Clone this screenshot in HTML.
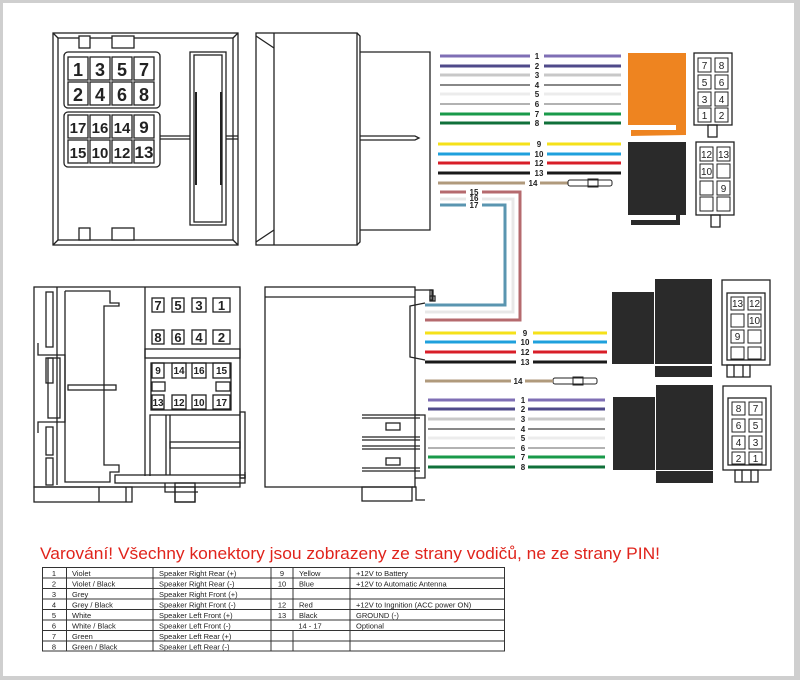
<!DOCTYPE html>
<html><head><meta charset="utf-8"><style>
body{margin:0;background:#fff}
svg{display:block}
text{font-family:"Liberation Sans",sans-serif}
</style></head><body>
<svg width="800" height="680" viewBox="0 0 800 680" xmlns="http://www.w3.org/2000/svg">
<rect x="0" y="0" width="800" height="680" fill="#cfcfcf"/>
<rect x="3" y="3" width="791" height="673" fill="#fff"/>

<!-- top-left connector -->
<g fill="none" stroke="#222" stroke-width="1.3">
<rect x="53" y="33" width="185" height="212"/>
<rect x="58" y="38" width="175" height="202"/>
<line x1="53" y1="33" x2="58" y2="38"/><line x1="238" y1="33" x2="233" y2="38"/>
<line x1="53" y1="245" x2="58" y2="240"/><line x1="238" y1="245" x2="233" y2="240"/>
<rect x="79" y="36" width="11" height="12" fill="#fff"/>
<rect x="112" y="36" width="22" height="12" fill="#fff"/>
<rect x="79" y="228" width="11" height="12" fill="#fff"/>
<rect x="112" y="228" width="22" height="12" fill="#fff"/>
<rect x="64" y="52" width="96" height="56" rx="4"/>
<rect x="64" y="112" width="96" height="55" rx="4"/>
<line x1="160" y1="136" x2="190" y2="136"/><line x1="160" y1="139" x2="190" y2="139"/>
<line x1="226" y1="136" x2="238" y2="136"/><line x1="226" y1="139" x2="238" y2="139"/>
<rect x="190" y="52" width="36" height="173"/>
<rect x="194" y="55" width="28" height="167"/>
<line x1="196" y1="92" x2="196" y2="185" stroke-width="2"/>
<line x1="221" y1="92" x2="221" y2="185" stroke-width="2"/>
</g>
<g fill="none" stroke="#222" stroke-width="1.3">
<rect x="68" y="57" width="20" height="23"/><rect x="90" y="57" width="20" height="23"/><rect x="112" y="57" width="20" height="23"/><rect x="134" y="57" width="20" height="23"/>
<rect x="68" y="82" width="20" height="23"/><rect x="90" y="82" width="20" height="23"/><rect x="112" y="82" width="20" height="23"/><rect x="134" y="82" width="20" height="23"/>
<rect x="68" y="115" width="20" height="23"/><rect x="90" y="115" width="20" height="23"/><rect x="112" y="115" width="20" height="23"/><rect x="134" y="115" width="20" height="23"/>
<rect x="68" y="140" width="20" height="23"/><rect x="90" y="140" width="20" height="23"/><rect x="112" y="140" width="20" height="23"/><rect x="134" y="140" width="20" height="23"/>
</g>
<g font-size="18" font-weight="bold" fill="#222" text-anchor="middle">
<text x="78" y="76">1</text><text x="100" y="76">3</text><text x="122" y="76">5</text><text x="144" y="76">7</text>
<text x="78" y="101">2</text><text x="100" y="101">4</text><text x="122" y="101">6</text><text x="144" y="101">8</text>
</g>
<g font-size="15" font-weight="bold" fill="#222" text-anchor="middle">
<text x="78" y="133">17</text><text x="100" y="133">16</text><text x="122" y="133">14</text><text x="144" y="133" font-size="17">9</text>
<text x="78" y="158">15</text><text x="100" y="158">10</text><text x="122" y="158">12</text><text x="144" y="158" font-size="17">13</text>
</g>

<!-- top side view -->
<g fill="none" stroke="#222" stroke-width="1.3">
<rect x="256" y="33" width="101" height="212"/>
<line x1="274" y1="33" x2="274" y2="245"/>
<polyline points="256,36 274,48"/><polyline points="256,242 274,230"/>
<polyline points="357,33 360,36 360,242 357,245"/>
<polyline points="360,52 430,52 430,230 360,230"/>
<polyline points="360,136 415,136 419,138 415,140 360,140"/>
</g>

<!-- top wires -->
<g stroke-width="3">
<line x1="440" y1="56" x2="530" y2="56" stroke="#7f6fb5"/><line x1="544" y1="56" x2="621" y2="56" stroke="#7f6fb5"/>
<line x1="440" y1="66" x2="530" y2="66" stroke="#4f4a8a"/><line x1="544" y1="66" x2="621" y2="66" stroke="#4f4a8a"/>
<line x1="440" y1="75" x2="530" y2="75" stroke="#c8c8c8"/><line x1="544" y1="75" x2="621" y2="75" stroke="#c8c8c8"/>
<line x1="440" y1="85" x2="530" y2="85" stroke="#888" stroke-width="2"/><line x1="544" y1="85" x2="621" y2="85" stroke="#888" stroke-width="2"/>
<line x1="440" y1="94" x2="530" y2="94" stroke="#ececec"/><line x1="544" y1="94" x2="621" y2="94" stroke="#ececec"/>
<line x1="440" y1="104" x2="530" y2="104" stroke="#999" stroke-width="1.5"/><line x1="544" y1="104" x2="621" y2="104" stroke="#999" stroke-width="1.5"/>
<line x1="440" y1="114" x2="530" y2="114" stroke="#1a9a4a"/><line x1="544" y1="114" x2="621" y2="114" stroke="#1a9a4a"/>
<line x1="440" y1="123" x2="530" y2="123" stroke="#10703a"/><line x1="544" y1="123" x2="621" y2="123" stroke="#10703a"/>
<line x1="438" y1="144" x2="530" y2="144" stroke="#f5e11a"/><line x1="547" y1="144" x2="621" y2="144" stroke="#f5e11a"/>
<line x1="438" y1="154" x2="530" y2="154" stroke="#1fa0dc"/><line x1="547" y1="154" x2="621" y2="154" stroke="#1fa0dc"/>
<line x1="438" y1="163" x2="530" y2="163" stroke="#d81e28"/><line x1="547" y1="163" x2="621" y2="163" stroke="#d81e28"/>
<line x1="438" y1="173" x2="530" y2="173" stroke="#1a1a1a"/><line x1="547" y1="173" x2="621" y2="173" stroke="#1a1a1a"/>
<line x1="438" y1="183" x2="525" y2="183" stroke="#b09a7c"/><line x1="540" y1="183" x2="568" y2="183" stroke="#b09a7c"/>
</g>
<g fill="none" stroke-width="3">
<polyline points="440,192 466,192" stroke="#b56a6e"/><polyline points="482,192 520,192 520,320 425,320" stroke="#b56a6e"/>
<polyline points="440,199 466,199" stroke="#e8e8e8"/><polyline points="482,199 513,199 513,312 425,312" stroke="#e8e8e8"/>
<polyline points="440,205 466,205" stroke="#5a95b0"/><polyline points="482,205 505,205 505,305 425,305" stroke="#5a95b0"/>
</g>
<g fill="none" stroke="#222" stroke-width="1">
<rect x="568" y="180" width="44" height="6" rx="2"/><rect x="588" y="179" width="10" height="8"/>
<rect x="553" y="378" width="44" height="6" rx="2"/><rect x="573" y="377" width="10" height="8"/>
</g>
<g font-size="8" font-weight="bold" fill="#222" text-anchor="middle">
<text x="537" y="59">1</text><text x="537" y="69">2</text><text x="537" y="78">3</text><text x="537" y="88">4</text>
<text x="537" y="97">5</text><text x="537" y="107">6</text><text x="537" y="117">7</text><text x="537" y="126">8</text>
<text x="539" y="147">9</text><text x="539" y="157">10</text><text x="539" y="166">12</text><text x="539" y="176">13</text>
<text x="533" y="186">14</text><text x="474" y="195">15</text><text x="474" y="201">16</text><text x="474" y="208">17</text>
</g>

<!-- top right blocks -->
<rect x="628" y="53" width="58" height="72" fill="#ee8420"/>
<polygon points="631,130 676,130 676,122 686,122 686,135 631,136" fill="#ee8420"/>
<rect x="628" y="142" width="58" height="73" fill="#2a2a2a"/>
<polygon points="631,220 676,220 676,214 680,214 680,225 631,225" fill="#2a2a2a"/>
<g fill="none" stroke="#222" stroke-width="1.3">
<rect x="694" y="53" width="38" height="72"/>
<rect x="708" y="125" width="9" height="12"/>
<rect x="696" y="142" width="38" height="73"/>
<rect x="711" y="215" width="9" height="12"/>
</g>
<g fill="none" stroke="#222" stroke-width="1">
<rect x="698" y="58" width="13" height="14"/><rect x="715" y="58" width="13" height="14"/>
<rect x="698" y="75" width="13" height="14"/><rect x="715" y="75" width="13" height="14"/>
<rect x="698" y="92" width="13" height="14"/><rect x="715" y="92" width="13" height="14"/>
<rect x="698" y="108" width="13" height="14"/><rect x="715" y="108" width="13" height="14"/>
<rect x="700" y="147" width="13" height="14"/><rect x="717" y="147" width="13" height="14"/>
<rect x="700" y="164" width="13" height="14"/><rect x="717" y="164" width="13" height="14"/>
<rect x="700" y="181" width="13" height="14"/><rect x="717" y="181" width="13" height="14"/>
<rect x="700" y="197" width="13" height="14"/><rect x="717" y="197" width="13" height="14"/>
</g>
<g font-size="10" fill="#222" text-anchor="middle">
<text x="704.5" y="69">7</text><text x="721.5" y="69">8</text>
<text x="704.5" y="86">5</text><text x="721.5" y="86">6</text>
<text x="704.5" y="103">3</text><text x="721.5" y="103">4</text>
<text x="704.5" y="119">1</text><text x="721.5" y="119">2</text>
<text x="706.5" y="158">12</text><text x="723.5" y="158">13</text>
<text x="706.5" y="175">10</text><text x="723.5" y="192">9</text>
</g>

<!-- bottom-left connector -->
<g fill="none" stroke="#222" stroke-width="1.3">
<rect x="34" y="287" width="206" height="200"/>
<rect x="34" y="487" width="98" height="15"/>
<line x1="99" y1="487" x2="99" y2="502"/><line x1="126" y1="487" x2="126" y2="502"/>
<rect x="175" y="487" width="20" height="15"/>
<rect x="46" y="292" width="7" height="55"/>
<rect x="46" y="358" width="7" height="25"/>
<rect x="48" y="358" width="12" height="60"/>
<rect x="46" y="427" width="7" height="28"/>
<rect x="46" y="458" width="7" height="27"/>
<polyline points="38,343 38,355 65,355 65,422 38,422 38,433"/>
<line x1="57" y1="287" x2="57" y2="485"/>
<polyline points="65,291 110,291 110,303 119,303 119,306 104,306 104,465 119,465 119,472 110,472 110,482 65,482 65,291"/>
<rect x="68" y="385" width="48" height="5"/>
<line x1="145" y1="287" x2="145" y2="476"/>
<rect x="145" y="349" width="95" height="9"/>
<rect x="150" y="299" width="88" height="46" fill="none" stroke="none"/>
<rect x="152" y="298" width="12" height="14"/><rect x="172" y="298" width="12" height="14"/><rect x="192" y="298" width="14" height="14"/><rect x="213" y="298" width="17" height="14"/>
<rect x="152" y="330" width="12" height="14"/><rect x="172" y="330" width="12" height="14"/><rect x="192" y="330" width="14" height="14"/><rect x="213" y="330" width="17" height="14"/>
<rect x="151" y="363" width="80" height="47"/>
<rect x="152" y="363" width="12" height="15"/><rect x="172" y="363" width="14" height="15"/><rect x="192" y="363" width="14" height="15"/><rect x="213" y="363" width="17" height="15"/>
<rect x="152" y="382" width="13" height="9"/><rect x="216" y="382" width="14" height="9"/>
<rect x="152" y="395" width="12" height="14"/><rect x="172" y="395" width="14" height="14"/><rect x="192" y="395" width="14" height="14"/><rect x="213" y="395" width="17" height="14"/>
<polyline points="150,476 150,415 240,415"/>
<line x1="166" y1="415" x2="166" y2="475"/><line x1="170" y1="415" x2="170" y2="475"/>
<rect x="170" y="442" width="70" height="6"/>
<rect x="240" y="412" width="5" height="66"/>
<polyline points="240,478 245,478 245,472"/>
<rect x="115" y="475" width="130" height="8"/>
<polyline points="165,483 165,492 198,492"/>
<rect x="175" y="483" width="20" height="19"/>
</g>
<g font-size="13" font-weight="bold" fill="#222" text-anchor="middle">
<text x="158" y="310">7</text><text x="178" y="310">5</text><text x="199" y="310">3</text><text x="221.5" y="310">1</text>
<text x="158" y="342">8</text><text x="178" y="342">6</text><text x="199" y="342">4</text><text x="221.5" y="342">2</text>
</g>
<g font-size="10" font-weight="bold" fill="#222" text-anchor="middle">
<text x="158" y="374">9</text><text x="179" y="374">14</text><text x="199" y="374">16</text><text x="221.5" y="374">15</text>
<text x="158" y="406">13</text><text x="179" y="406">12</text><text x="199" y="406">10</text><text x="221.5" y="406">17</text>
</g>

<!-- bottom side view -->
<g fill="none" stroke="#222" stroke-width="1.3">
<rect x="265" y="287" width="150" height="200"/>
<line x1="265" y1="297" x2="415" y2="297"/>
<polyline points="415,290 432,290 432,300"/>
<rect x="430" y="290" width="3" height="10"/>
<polyline points="425,303 410,306 410,357 425,360"/>
<rect x="430" y="296" width="5" height="5"/>
<line x1="362" y1="415" x2="420" y2="415"/><line x1="362" y1="418" x2="420" y2="418"/>
<line x1="362" y1="437" x2="420" y2="437"/><line x1="362" y1="440" x2="420" y2="440"/>
<line x1="362" y1="446" x2="420" y2="446"/><line x1="362" y1="449" x2="420" y2="449"/>
<line x1="362" y1="468" x2="420" y2="468"/><line x1="362" y1="471" x2="420" y2="471"/>
<rect x="386" y="423" width="14" height="7"/><rect x="386" y="458" width="14" height="7"/>
<polyline points="415,415 425,415 425,478 415,478"/>
<rect x="362" y="487" width="50" height="14"/>
<polyline points="412,487 416,487 416,500 425,500"/>
</g>

<!-- bottom wires -->
<g stroke-width="3">
<line x1="425" y1="333" x2="516" y2="333" stroke="#f5e11a"/><line x1="533" y1="333" x2="607" y2="333" stroke="#f5e11a"/>
<line x1="425" y1="342" x2="516" y2="342" stroke="#1fa0dc"/><line x1="533" y1="342" x2="607" y2="342" stroke="#1fa0dc"/>
<line x1="425" y1="352" x2="516" y2="352" stroke="#d81e28"/><line x1="533" y1="352" x2="607" y2="352" stroke="#d81e28"/>
<line x1="425" y1="362" x2="516" y2="362" stroke="#1a1a1a"/><line x1="533" y1="362" x2="607" y2="362" stroke="#1a1a1a"/>
<line x1="425" y1="381" x2="511" y2="381" stroke="#b09a7c"/><line x1="525" y1="381" x2="553" y2="381" stroke="#b09a7c"/>
<line x1="428" y1="400" x2="515" y2="400" stroke="#7f6fb5"/><line x1="528" y1="400" x2="605" y2="400" stroke="#7f6fb5"/>
<line x1="428" y1="409" x2="515" y2="409" stroke="#4f4a8a"/><line x1="528" y1="409" x2="605" y2="409" stroke="#4f4a8a"/>
<line x1="428" y1="419" x2="515" y2="419" stroke="#c8c8c8"/><line x1="528" y1="419" x2="605" y2="419" stroke="#c8c8c8"/>
<line x1="428" y1="429" x2="515" y2="429" stroke="#888" stroke-width="2"/><line x1="528" y1="429" x2="605" y2="429" stroke="#888" stroke-width="2"/>
<line x1="428" y1="438" x2="515" y2="438" stroke="#ececec"/><line x1="528" y1="438" x2="605" y2="438" stroke="#ececec"/>
<line x1="428" y1="448" x2="515" y2="448" stroke="#999" stroke-width="1.5"/><line x1="528" y1="448" x2="605" y2="448" stroke="#999" stroke-width="1.5"/>
<line x1="428" y1="457" x2="515" y2="457" stroke="#1a9a4a"/><line x1="528" y1="457" x2="605" y2="457" stroke="#1a9a4a"/>
<line x1="428" y1="467" x2="515" y2="467" stroke="#10703a"/><line x1="528" y1="467" x2="605" y2="467" stroke="#10703a"/>
</g>
<g font-size="8" font-weight="bold" fill="#222" text-anchor="middle">
<text x="525" y="336">9</text><text x="525" y="345">10</text><text x="525" y="355">12</text><text x="525" y="365">13</text>
<text x="518" y="384">14</text>
<text x="523" y="403">1</text><text x="523" y="412">2</text><text x="523" y="422">3</text><text x="523" y="432">4</text>
<text x="523" y="441">5</text><text x="523" y="451">6</text><text x="523" y="460">7</text><text x="523" y="470">8</text>
</g>

<!-- bottom right blocks -->
<g fill="#2a2a2a">
<rect x="612" y="292" width="42" height="72"/><rect x="655" y="279" width="57" height="85"/><rect x="655" y="366" width="57" height="11"/>
<rect x="613" y="397" width="42" height="73"/><rect x="656" y="385" width="57" height="85"/><rect x="656" y="471" width="57" height="12"/>
</g>
<g fill="none" stroke="#222" stroke-width="1.3">
<rect x="722" y="280" width="48" height="85"/><rect x="727" y="293" width="38" height="67"/>
<rect x="727" y="365" width="23" height="12"/><line x1="734" y1="365" x2="734" y2="377"/><line x1="743" y1="365" x2="743" y2="377"/>
<rect x="723" y="386" width="48" height="84"/><rect x="728" y="398" width="38" height="67"/>
<rect x="735" y="470" width="23" height="12"/><line x1="742" y1="470" x2="742" y2="482"/><line x1="751" y1="470" x2="751" y2="482"/>
</g>
<g fill="none" stroke="#222" stroke-width="1">
<rect x="731" y="297" width="13" height="13"/><rect x="748" y="297" width="13" height="13"/>
<rect x="731" y="314" width="13" height="13"/><rect x="748" y="314" width="13" height="13"/>
<rect x="731" y="330" width="13" height="13"/><rect x="748" y="330" width="13" height="13"/>
<rect x="731" y="347" width="13" height="12"/><rect x="748" y="347" width="13" height="12"/>
<rect x="732" y="402" width="13" height="13"/><rect x="749" y="402" width="13" height="13"/>
<rect x="732" y="419" width="13" height="13"/><rect x="749" y="419" width="13" height="13"/>
<rect x="732" y="436" width="13" height="13"/><rect x="749" y="436" width="13" height="13"/>
<rect x="732" y="452" width="13" height="12"/><rect x="749" y="452" width="13" height="12"/>
</g>
<g font-size="10" fill="#222" text-anchor="middle">
<text x="737.5" y="307">13</text><text x="754.5" y="307">12</text>
<text x="754.5" y="324">10</text><text x="737.5" y="340">9</text>
<text x="738.5" y="412">8</text><text x="755.5" y="412">7</text>
<text x="738.5" y="429">6</text><text x="755.5" y="429">5</text>
<text x="738.5" y="446">4</text><text x="755.5" y="446">3</text>
<text x="738.5" y="462">2</text><text x="755.5" y="462">1</text>
</g>

<!-- warning -->
<text x="40" y="559" font-size="17" fill="#e0241c" textLength="620" lengthAdjust="spacingAndGlyphs">Varování! Všechny konektory jsou zobrazeny ze strany vodičů, ne ze strany PIN!</text>

<!-- table -->
<g stroke="#333" stroke-width="1" fill="none">
<rect x="42.5" y="567.5" width="462" height="83.5"/>
<line x1="42" y1="578" x2="505" y2="578"/><line x1="42" y1="588.5" x2="505" y2="588.5"/>
<line x1="42" y1="599" x2="505" y2="599"/><line x1="42" y1="609.5" x2="505" y2="609.5"/>
<line x1="42" y1="620" x2="505" y2="620"/><line x1="42" y1="630.5" x2="505" y2="630.5"/>
<line x1="42" y1="641" x2="505" y2="641"/>
<line x1="66.5" y1="567" x2="66.5" y2="651"/><line x1="153" y1="567" x2="153" y2="651"/>
<line x1="271" y1="567" x2="271" y2="651"/><line x1="293" y1="567" x2="293" y2="620"/>
<line x1="293" y1="630.5" x2="293" y2="651"/><line x1="350" y1="567" x2="350" y2="651"/>
</g>
<g font-size="7.5" fill="#222">
<g text-anchor="middle">
<text x="54" y="576">1</text><text x="54" y="586.5">2</text><text x="54" y="597">3</text><text x="54" y="607.5">4</text>
<text x="54" y="618">5</text><text x="54" y="628.5">6</text><text x="54" y="639">7</text><text x="54" y="649.5">8</text>
<text x="282" y="576">9</text><text x="282" y="586.5">10</text><text x="282" y="607.5">12</text><text x="282" y="618">13</text>
<text x="310" y="628.5">14 - 17</text>
</g>
<text x="72" y="576">Violet</text><text x="72" y="586.5">Violet / Black</text><text x="72" y="597">Grey</text><text x="72" y="607.5">Grey / Black</text>
<text x="72" y="618">White</text><text x="72" y="628.5">White / Black</text><text x="72" y="639">Green</text><text x="72" y="649.5">Green / Black</text>
<text x="159" y="576">Speaker Right Rear (+)</text><text x="159" y="586.5">Speaker Right Rear (-)</text>
<text x="159" y="597">Speaker Right Front (+)</text><text x="159" y="607.5">Speaker Right Front (-)</text>
<text x="159" y="618">Speaker Left Front (+)</text><text x="159" y="628.5">Speaker Left Front (-)</text>
<text x="159" y="639">Speaker Left Rear (+)</text><text x="159" y="649.5">Speaker Left Rear (-)</text>
<text x="299" y="576">Yellow</text><text x="299" y="586.5">Blue</text><text x="299" y="607.5">Red</text><text x="299" y="618">Black</text>
<text x="356" y="576">+12V to Battery</text><text x="356" y="586.5">+12V to Automatic Antenna</text>
<text x="356" y="607.5">+12V to Ingnition (ACC power ON)</text><text x="356" y="618">GROUND (-)</text>
<text x="356" y="628.5">Optional</text>
</g>
</svg>
</body></html>
